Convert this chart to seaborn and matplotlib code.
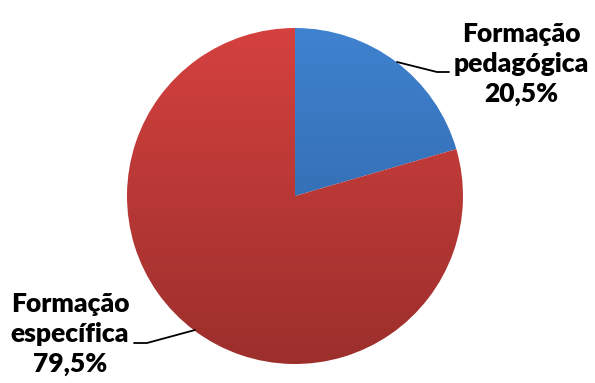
import numpy as np
import matplotlib
matplotlib.use("Agg")
import matplotlib.pyplot as plt
import seaborn as sns
from matplotlib.colors import LinearSegmentedColormap

categories = ["Formação\npedagógica", "Formação\nespecífica"]
values = [20.5, 79.5]
value_labels = ["20,5%", "79,5%"]
top_colors = ["#3f82cf", "#d4413f"]
bottom_colors = ["#2c5f9f", "#9c2f2c"]

sns.set_theme(style="white")
plt.rcParams['font.family'] = ['Lato', 'DejaVu Sans']

fig = plt.figure(figsize=(5.95, 3.83), dpi=100)
ax = fig.add_axes([0, 0, 1, 1])

cx, cy, r = 295, 383 - 196, 168
wedges, _ = ax.pie(values, colors=top_colors, startangle=90, counterclock=False,
                   center=(cx, cy), radius=r, frame=True,
                   wedgeprops=dict(linewidth=0))
ax.set_xlim(0, 595)
ax.set_ylim(0, 383)
ax.set_aspect('equal')
ax.axis('off')

for w, ct, cb in zip(wedges, top_colors, bottom_colors):
    cmap = LinearSegmentedColormap.from_list("g", [cb, ct])
    grad = np.linspace(0, 1, 256).reshape(-1, 1)
    im = ax.imshow(grad, cmap=cmap, origin='lower', aspect='auto',
                   extent=(cx - r, cx + r, cy - r, cy + r), zorder=2)
    im.set_clip_path(w)
    w.set_alpha(0)

# labels
ax.text(521, 383 - 64, categories[0] + "\n" + value_labels[0], ha='center', va='center',
        fontsize=19, fontweight='heavy', color='black', linespacing=1.3)
ax.text(70, 383 - 334, categories[1] + "\n" + value_labels[1], ha='center', va='center',
        fontsize=19, fontweight='heavy', color='black', linespacing=1.3)

# leader lines
ax.plot([397, 437, 449], [383 - 62, 383 - 72, 383 - 72], color='black', lw=1.3, zorder=5)
ax.plot([195, 147, 134], [383 - 330, 383 - 343, 383 - 343], color='black', lw=1.3, zorder=5)

fig.savefig("out.png", dpi=100)
